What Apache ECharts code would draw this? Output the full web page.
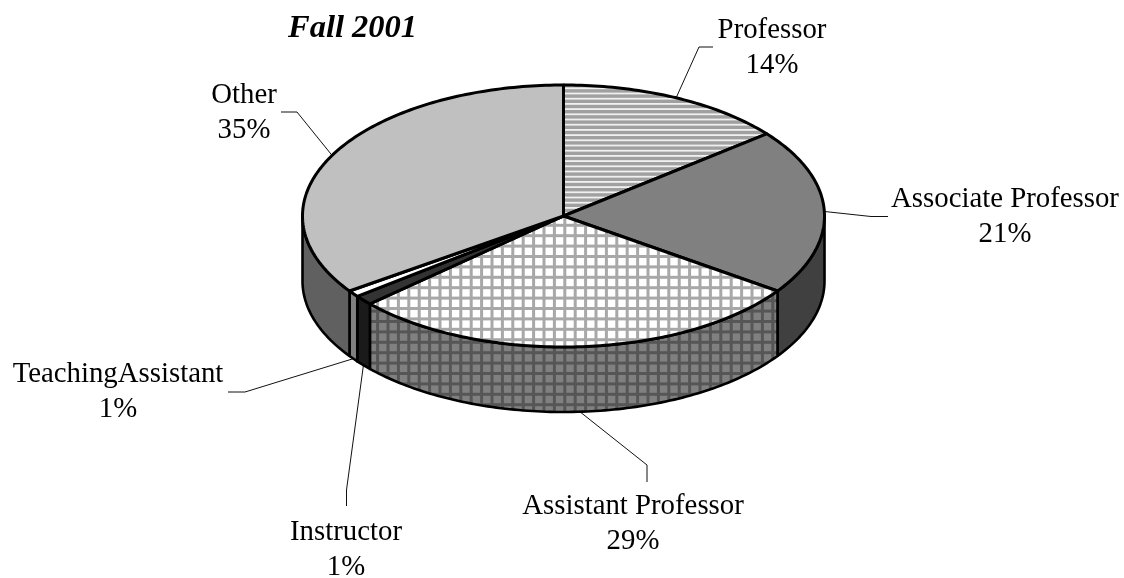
<!DOCTYPE html>
<html>
<head>
<meta charset="utf-8">
<style>html,body{margin:0;padding:0;background:#fff}#c{width:1124px;height:578px}</style>
<script src="https://cdn.jsdelivr.net/npm/echarts@6/dist/echarts.min.js"></script>
</head>
<body>
<div id="c"></div>
<script>
// ---- data ----
const categories = ['Professor', 'Associate Professor', 'Assistant Professor', 'Instructor', 'TeachingAssistant', 'Other'];
const shareValues = [14.2, 20.5, 28.6, 1.2, 0.8, 34.7];
const chartTitle = 'Fall 2001';

// ---- layout and style, kept apart from the data ----
const PIE = { cx: 563.5, cy: 216, rx: 261, ry: 131, depth: 65 };
const FONT = '28.8px "Liberation Serif", serif';
const TEXT_LAYOUT = [
  { x: 772, y: 48, elbow: [[699, 47], [713, 47]] },
  { x: 1005, y: 217, elbow: [[871, 216.5], [888, 216.5]] },
  { x: 633, y: 524, elbow: [[647, 465], [647, 482]] },
  { x: 346, y: 550, elbow: [[346.5, 490], [346.5, 506]] },
  { x: 118, y: 392, elbow: [[245, 392], [228, 392]] },
  { x: 244, y: 113, elbow: [[297, 112], [281, 112]] }
];

function tile(size, draw) {
  const c = document.createElement('canvas');
  c.width = size; c.height = size;
  const g = c.getContext('2d');
  g.filter = 'blur(0.5px)';
  draw(g);
  return { image: c, repeat: 'repeat' };
}
function stripes() {
  return tile(26, g => {
    g.fillStyle = '#f0f0f0'; g.fillRect(-4, -4, 34, 34);
    g.fillStyle = '#a0a0a0';
    for (let i = -1; i < 6; i++) g.fillRect(-4, i * 5.2 + 0.8, 34, 3.4);
  });
}
function grid(bg, line, ox, oy) {
  const P = 10.4;
  return tile(52, g => {
    g.fillStyle = bg; g.fillRect(-4, -4, 60, 60);
    g.fillStyle = line;
    for (let i = -1; i < 7; i++) {
      g.fillRect(ox + i * P - 1.5, -4, 3, 60);
      g.fillRect(-4, oy + i * P - 1.5, 60, 3);
    }
  });
}
const TOP_FILLS = [stripes(), '#808080', grid('#ffffff', '#a8a8a8', 3.2, 6.9), '#333333', '#ffffff', '#c0c0c0'];
const WALL_FILLS = ['#808080', '#404040', grid('#808080', '#565656', 3.2, 9.5), '#1a1a1a', '#808080', '#606060'];

// ---- scale: value -> angle (clockwise from the top of the ellipse) ----
const TOTAL = shareValues.reduce((a, b) => a + b, 0);
function span(i) {
  let before = 0;
  for (let k = 0; k < i; k++) before += shareValues[k];
  return [before / TOTAL * 360, (before + shareValues[i]) / TOTAL * 360];
}
function rim(deg, drop) {
  const t = deg * Math.PI / 180;
  return [PIE.cx + PIE.rx * Math.sin(t), PIE.cy - PIE.ry * Math.cos(t) + (drop || 0)];
}
function arc(a, b, drop) {
  const pts = [], n = Math.max(2, Math.ceil(Math.abs(b - a)));
  for (let i = 0; i <= n; i++) pts.push(rim(a + (b - a) * i / n, drop));
  return pts;
}
const rows = shareValues.map((v, i) => [i, v]);

function wallItem(params) {
  const [s, e] = span(params.dataIndex);
  const a = Math.max(s, 90), b = Math.min(e, 270);
  if (a >= b) return { type: 'group', children: [] };
  const pts = arc(a, b, 0).concat(arc(b, a, PIE.depth));
  return { type: 'polygon', shape: { points: pts },
    style: { fill: WALL_FILLS[params.dataIndex], stroke: '#000', lineWidth: 2.6, lineJoin: 'round' } };
}
function topItem(params) {
  const [s, e] = span(params.dataIndex);
  const pts = [[PIE.cx, PIE.cy]].concat(arc(s, e, 0));
  return { type: 'polygon', shape: { points: pts },
    style: { fill: TOP_FILLS[params.dataIndex], stroke: '#000', lineWidth: 3, lineJoin: 'round' } };
}
function leaderItem(params) {
  const i = params.dataIndex, [s, e] = span(i), mid = (s + e) / 2;
  const front = mid > 90 && mid < 270;
  const start = rim(mid, front ? PIE.depth : 0);
  return { type: 'polyline', shape: { points: [start].concat(TEXT_LAYOUT[i].elbow) },
    style: { fill: 'none', stroke: '#111', lineWidth: 1 } };
}
function labelItem(params) {
  const i = params.dataIndex, L = TEXT_LAYOUT[i];
  return { type: 'text', x: L.x, y: L.y,
    style: { text: categories[i] + '\n' + Math.round(shareValues[i]) + '%', fill: '#000', font: FONT,
      align: 'center', verticalAlign: 'middle', lineHeight: 35 } };
}
function layer(name, z, renderItem) {
  return { type: 'custom', name, coordinateSystem: 'none', z, silent: true, animation: false,
    clip: false, data: rows, renderItem };
}

const chart = echarts.init(document.getElementById('c'), null, { renderer: 'canvas' });
chart.setOption({
  animation: false,
  backgroundColor: '#fff',
  title: { text: chartTitle, left: 283, top: 7,
    textStyle: { fontFamily: '"Liberation Serif", serif', fontStyle: 'italic', fontWeight: 'bold', fontSize: 32.5, color: '#000' } },
  tooltip: { show: false },
  series: [
    layer('leaders', 1, leaderItem),
    layer('walls', 2, wallItem),
    layer('tops', 3, topItem),
    layer('labels', 4, labelItem)
  ]
});
</script>
</body>
</html>
